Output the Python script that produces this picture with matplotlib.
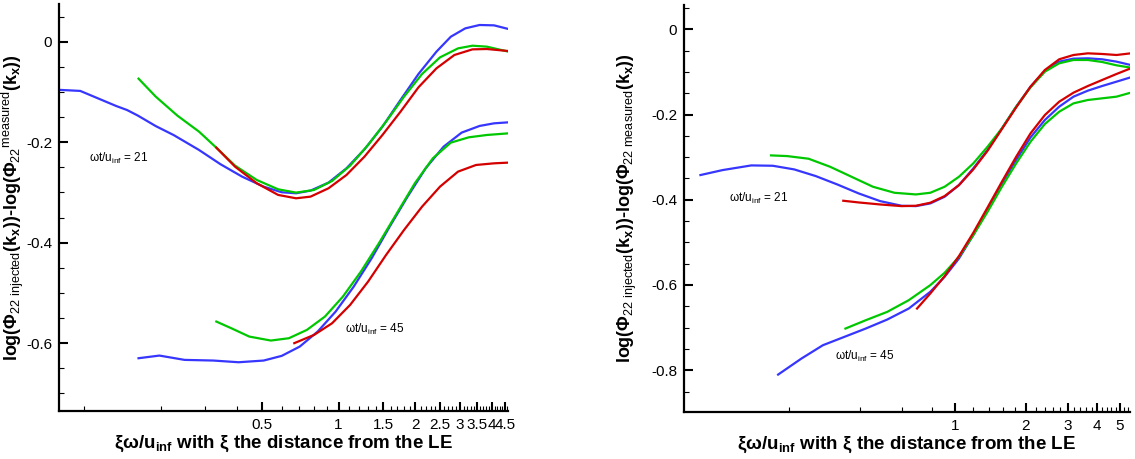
import matplotlib
matplotlib.use('Agg')
import matplotlib.pyplot as plt
import numpy as np

plt.rcParams['font.family'] = ['Liberation Sans', 'DejaVu Sans']
plt.rcParams['mathtext.fontset'] = 'custom'
plt.rcParams['mathtext.rm'] = 'Liberation Sans'
plt.rcParams['mathtext.it'] = 'Liberation Sans'
plt.rcParams['mathtext.bf'] = 'Liberation Sans:bold'
plt.rcParams['axes.unicode_minus'] = False

# ---- left panel data ----
L21_blue_x = [0.0808, 0.0967, 0.1175, 0.1338, 0.1476, 0.1627, 0.1914, 0.2253, 0.283, 0.344, 0.418, 0.508,
              0.598, 0.681, 0.776, 0.913, 1.074, 1.264, 1.487, 1.751, 2.06, 2.423, 2.76, 3.145, 3.58, 4.08, 4.65]
L21_blue_y = [-0.096, -0.098, -0.116, -0.128, -0.136, -0.147, -0.168, -0.186, -0.2155, -0.244, -0.2686, -0.2885,
              -0.2997, -0.3017, -0.2964, -0.2805, -0.252, -0.2142, -0.1691, -0.116, -0.0643, -0.0199, 0.0099, 0.0265,
              0.0332, 0.0325, 0.0252]
L21_green_x = [0.1638, 0.1914, 0.2328, 0.283, 0.333, 0.392, 0.477, 0.579, 0.681, 0.801, 0.943, 1.11, 1.306,
               1.537, 1.808, 2.128, 2.503, 2.946, 3.356, 3.823, 4.65]
L21_green_y = [-0.0736, -0.1094, -0.1472, -0.179, -0.2122, -0.2467, -0.2752, -0.2938, -0.3004, -0.2951, -0.2772,
               -0.2467, -0.2056, -0.1591, -0.1094, -0.0643, -0.0312, -0.0133, -0.008, -0.0099, -0.0199]
L21_red_x = [0.331, 0.392, 0.477, 0.579, 0.681, 0.776, 0.913, 1.074, 1.264, 1.487, 1.751, 2.06, 2.423, 2.85,
             3.356, 3.823, 4.65]
L21_red_y = [-0.2109, -0.2487, -0.2818, -0.305, -0.3117, -0.3084, -0.2918, -0.2653, -0.2288, -0.1857, -0.1393,
             -0.0908, -0.0531, -0.0265, -0.0153, -0.0146, -0.0186]

L45_blue_x = [0.1638, 0.1978, 0.2483, 0.322, 0.405, 0.508, 0.598, 0.704, 0.828, 0.974, 1.147, 1.349, 1.588,
              1.867, 2.198, 2.586, 3.043, 3.58, 4.08, 4.65]
L45_blue_y = [-0.630, -0.6247, -0.6333, -0.6346, -0.638, -0.6346, -0.6253, -0.6068, -0.5769, -0.5371, -0.4874,
              -0.431, -0.368, -0.3083, -0.252, -0.2089, -0.181, -0.1677, -0.1625, -0.1605]
L45_green_x = [0.331, 0.379, 0.446, 0.542, 0.638, 0.751, 0.884, 1.04, 1.224, 1.44, 1.694, 1.993, 2.346, 2.76,
               3.249, 3.823, 4.65]
L45_green_y = [-0.557, -0.5703, -0.5869, -0.5948, -0.5902, -0.5736, -0.5471, -0.5073, -0.4576, -0.4012, -0.3415,
               -0.2818, -0.2321, -0.2009, -0.1903, -0.1857, -0.1824]
L45_red_x = [0.670, 0.801, 0.943, 1.11, 1.306, 1.537, 1.808, 2.128, 2.503, 2.946, 3.466, 4.08, 4.65]
L45_red_y = [-0.600, -0.5836, -0.5604, -0.5239, -0.4775, -0.4244, -0.3747, -0.3283, -0.2885, -0.2586, -0.2454,
             -0.2421, -0.2407]

# ---- right panel data ----
R21_blue_x = [0.0843, 0.1047, 0.1383, 0.1704, 0.21, 0.2588, 0.319, 0.393, 0.484, 0.597, 0.686, 0.789, 0.907,
              1.043, 1.199, 1.378, 1.584, 1.82, 2.093, 2.406, 2.766, 3.179, 3.655, 4.2, 4.83, 5.55]
R21_blue_y = [-0.342, -0.3303, -0.3194, -0.3202, -0.3288, -0.3444, -0.364, -0.3851, -0.4031, -0.4141, -0.4149,
              -0.4086, -0.393, -0.3656, -0.3264, -0.2834, -0.2325, -0.1816, -0.1346, -0.0979, -0.0759, -0.0689,
              -0.0681, -0.0704, -0.0759, -0.0838]
R21_green_x = [0.1675, 0.196, 0.2414, 0.2975, 0.3666, 0.4518, 0.5568, 0.686, 0.789, 0.907, 1.043, 1.199, 1.378,
               1.584, 1.82, 2.093, 2.406, 2.766, 3.179, 3.655, 4.2, 4.83, 5.55]
R21_green_y = [-0.2959, -0.2975, -0.3037, -0.3225, -0.346, -0.3695, -0.3836, -0.3875, -0.3836, -0.3695, -0.346,
               -0.3147, -0.2755, -0.2325, -0.1816, -0.1362, -0.0994, -0.0798, -0.072, -0.072, -0.0767, -0.0845, -0.09]
R21_red_x = [0.3384, 0.393, 0.484, 0.597, 0.686, 0.789, 0.907, 1.043, 1.199, 1.378, 1.584, 1.82, 2.093, 2.406,
             2.766, 3.179, 3.655, 4.2, 4.83, 5.55]
R21_red_y = [-0.4023, -0.4063, -0.411, -0.4149, -0.4141, -0.407, -0.3914, -0.3656, -0.3288, -0.2849, -0.234,
             -0.1832, -0.1346, -0.0955, -0.0704, -0.0603, -0.0564, -0.0579, -0.0603, -0.0564]

R45_blue_x = [0.1795, 0.2252, 0.2775, 0.342, 0.4214, 0.5193, 0.6401, 0.789, 0.907, 1.043, 1.199, 1.378, 1.584,
              1.82, 2.093, 2.406, 2.766, 3.179, 3.655, 4.2, 4.83, 5.55]
R45_blue_y = [-0.8102, -0.7726, -0.7413, -0.7217, -0.7021, -0.681, -0.6552, -0.616, -0.5808, -0.5378, -0.483,
              -0.4243, -0.3656, -0.3068, -0.2536, -0.2129, -0.1816, -0.1581, -0.144, -0.1331, -0.1229, -0.1127]
R45_green_x = [0.3456, 0.4214, 0.5193, 0.6401, 0.789, 0.907, 1.043, 1.199, 1.378, 1.584, 1.82, 2.093, 2.406,
               2.766, 3.179, 3.655, 4.2, 4.83, 5.55]
R45_green_y = [-0.7022, -0.6826, -0.663, -0.6356, -0.6004, -0.5714, -0.5339, -0.483, -0.4282, -0.3695, -0.3147,
               -0.2638, -0.2223, -0.1934, -0.1738, -0.1659, -0.162, -0.1581, -0.1487]
R45_red_x = [0.6937, 0.789, 0.907, 1.043, 1.199, 1.378, 1.584, 1.82, 2.093, 2.406, 2.766, 3.179, 3.655, 4.2,
             4.83, 5.55]
R45_red_y = [-0.6552, -0.62, -0.5793, -0.5323, -0.4775, -0.418, -0.3577, -0.2991, -0.2442, -0.2012, -0.1699,
             -0.1487, -0.1331, -0.119, -0.1049, -0.0916]

left_xticks = [0.5, 1, 1.5, 2, 2.5, 3, 3.5, 4, 4.5]
left_xlabels = ['0.5', '1', '1.5', '2', '2.5', '3', '3.5', '4', '4.5']
right_xticks = [1, 2, 3, 4, 5]
right_xlabels = ['1', '2', '3', '4', '5']
left_yticks = [0, -0.2, -0.4, -0.6]
right_yticks = [0, -0.2, -0.4, -0.6, -0.8]

BLUE = '#3636ff'
GREEN = '#00c800'
RED = '#d40000'

# the left panel's original has the "measured" subscript pushed up
ylabel_left = (r'log($\mathbf{\Phi}_{\mathrm{22\ injected}}$(k$_\mathbf{x}$))'
               r'-log($\mathbf{\Phi}_{\mathrm{22}}{}^{\mathrm{measured}}$(k$_\mathbf{x}$))')
ylabel_right = (r'log($\mathbf{\Phi}_{\mathrm{22\ injected}}$(k$_\mathbf{x}$))'
                r'-log($\mathbf{\Phi}_{\mathrm{22\ measured}}$(k$_\mathbf{x}$))')
xlabel = r'ξω/u$_\mathbf{inf}$ with ξ the distance from the LE'


def style_axes(ax, xlim, ylim, xticks, xlabels, xminor, yticks, ylabel, ylabel_x):
    ax.set_xscale('log')
    ax.set_xlim(*xlim)
    ax.set_ylim(*ylim)
    ax.set_xticks(xticks, xlabels)
    ax.set_xticks(xminor, minor=True)
    ax.xaxis.set_minor_formatter(matplotlib.ticker.NullFormatter())
    ax.set_yticks(yticks, ['0' if v == 0 else f'{v:.1f}' for v in yticks])
    ax.set_yticks(np.arange(ylim[0] // 0.05 * 0.05 + 0.05, ylim[1], 0.05), minor=True)
    ax.spines['top'].set_visible(False)
    ax.spines['right'].set_visible(False)
    for s in ('left', 'bottom'):
        ax.spines[s].set_linewidth(1.6)
    ax.tick_params(which='major', direction='in', length=6.5, width=1.5, labelsize=11, pad=5)
    ax.tick_params(which='minor', direction='in', length=3.5, width=0.8)
    ax.set_xlabel(xlabel, fontsize=13.5, fontweight='bold', labelpad=1)
    ax.set_ylabel(ylabel, fontsize=13, fontweight='bold')
    ax.yaxis.set_label_coords(ylabel_x, 0.5)


fig = plt.figure(figsize=(11.35, 4.59), dpi=100)

ax1 = fig.add_axes([0.052, 0.1046, 0.3956, 0.8867])
ax1.plot(L21_blue_x, L21_blue_y, color=BLUE, lw=1.6)
ax1.plot(L21_green_x, L21_green_y, color=GREEN, lw=1.6)
ax1.plot(L21_red_x, L21_red_y, color=RED, lw=1.6)
ax1.plot(L45_blue_x, L45_blue_y, color=BLUE, lw=1.6)
ax1.plot(L45_green_x, L45_green_y, color=GREEN, lw=1.6)
ax1.plot(L45_red_x, L45_red_y, color=RED, lw=1.6)
ax1.text(0.105, -0.232, r'ωt/u$_{\rm inf}$ = 21', fontsize=8.5, va='center')
ax1.text(1.057, -0.572, r'ωt/u$_{\rm inf}$ = 45', fontsize=8.5, va='center')
left_minor = [0.1, 0.2, 0.3, 0.4, 0.6, 0.7, 0.8, 0.9] + [v for v in np.arange(1.1, 4.65, 0.1)
                                                         if abs(v * 2 - round(v * 2)) > 1e-6]
style_axes(ax1, (0.0798, 4.63), (-0.735, 0.075), left_xticks, left_xlabels, left_minor,
           left_yticks, ylabel_left, -0.073)

ax2 = fig.add_axes([0.6026, 0.1024, 0.3930, 0.8867])
ax2.plot(R21_blue_x, R21_blue_y, color=BLUE, lw=1.6)
ax2.plot(R21_green_x, R21_green_y, color=GREEN, lw=1.6)
ax2.plot(R21_red_x, R21_red_y, color=RED, lw=1.6)
ax2.plot(R45_blue_x, R45_blue_y, color=BLUE, lw=1.6)
ax2.plot(R45_green_x, R45_green_y, color=GREEN, lw=1.6)
ax2.plot(R45_red_x, R45_red_y, color=RED, lw=1.6)
ax2.text(0.111, -0.397, r'ωt/u$_{\rm inf}$ = 21', fontsize=8.5, va='center')
ax2.text(0.311, -0.767, r'ωt/u$_{\rm inf}$ = 45', fontsize=8.5, va='center')
right_minor = [0.2, 0.4, 0.6, 0.8] + [v for v in np.arange(1.2, 5.5, 0.2)
                                      if abs(v - round(v)) > 1e-6]
style_axes(ax2, (0.0718, 5.51), (-0.898, 0.057), right_xticks, right_xlabels, right_minor,
           right_yticks, ylabel_right, -0.1)

fig.savefig('out.png', dpi=100)
